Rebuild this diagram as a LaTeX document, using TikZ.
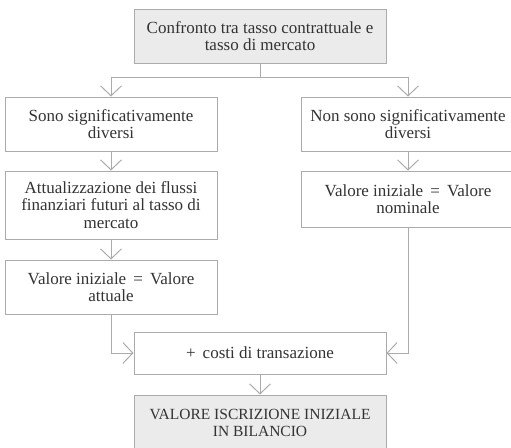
\documentclass[tikz,border=0pt]{standalone}
\usepackage{fontspec}
\setmainfont{Liberation Serif}
\usetikzlibrary{arrows.meta}
\definecolor{linegray}{HTML}{ABABAB}
\definecolor{boxfill}{HTML}{EBEBEB}
\definecolor{txt}{HTML}{333333}
\begin{document}
\begin{tikzpicture}[x=1pt,y=-1pt,
  box/.style={draw=linegray,line width=1pt,minimum width=#1,inner sep=0pt,align=center,text=txt,font=\fontsize{17}{17.5}\selectfont},
  gbox/.style={box=#1,fill=boxfill},
  conn/.style={draw=linegray,line width=1pt},
  arr/.style={conn,-{Straight Barb[length=10pt,width=21pt,line width=1pt]}}]
\useasboundingbox (0,0) rectangle (511,447);
\node[gbox=252pt,minimum height=54pt] (top) at (260,36) {Confronto tra tasso contrattuale e\\tasso di mercato};
\node[box=212pt,minimum height=54pt] (sono) at (111,124) {Sono significativamente\\diversi};
\node[box=214pt,minimum height=54pt] (nonsono) at (408,124) {Non sono significativamente\\diversi};
\node[box=212pt,minimum height=68pt] (attual) at (111,205) {Attualizzazione dei flussi\\finanziari futuri al tasso di\\mercato};
\node[box=214pt,minimum height=56pt] (nominale) at (408,199) {Valore iniziale \,=\, Valore\\nominale};
\node[box=212pt,minimum height=54pt] (attuale) at (111,287) {Valore iniziale \,=\, Valore\\attuale};
\node[box=252pt,minimum height=42pt] (costi) at (260,353) {+\, costi di transazione};
\node[gbox=252pt,minimum height=55pt,font=\fontsize{15.5}{17}\selectfont] (bil) at (260,422.5) {VALORE ISCRIZIONE INIZIALE\\IN BILANCIO};
\coordinate (split) at (260,77);
\draw[conn] (top.south) -- (split);
\draw[arr] (split) -| (sono.north);
\draw[arr] (split) -| (nonsono.north);
\draw[arr] (sono.south) -- (attual.north);
\draw[arr] (attual.south) -- (attuale.north);
\draw[arr] (nonsono.south) -- (nominale.north);
\draw[arr] (attuale.south) |- (costi.west);
\draw[arr] (nominale.south) |- (costi.east);
\draw[arr] (costi.south) -- (bil.north);
\end{tikzpicture}
\end{document}
